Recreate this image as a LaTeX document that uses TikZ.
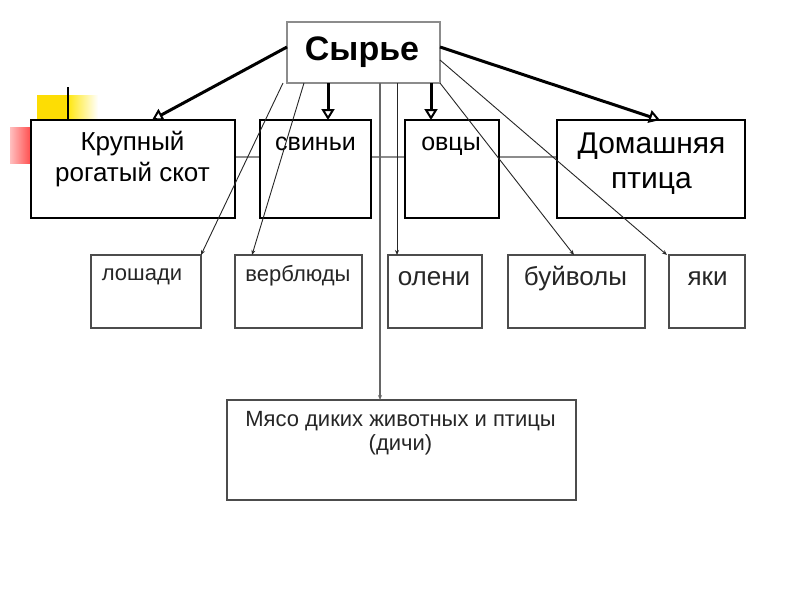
\documentclass[tikz,border=0pt]{standalone}
\usepackage{fontspec}
\setmainfont{Liberation Sans}
\usetikzlibrary{arrows.meta,calc,backgrounds}
\begin{document}
\begin{tikzpicture}[x=1pt,y=-1pt,
  tbox/.style={draw=black, line width=2.5pt, fill=white, inner sep=0pt, outer sep=0pt},
  lbox/.style={draw=black!70, line width=1.2pt, fill=white, inner sep=0pt, outer sep=0pt},
  sbox/.style={draw=black!45, line width=1.2pt, fill=white, inner sep=0pt, outer sep=0pt},
  txt/.style={inner sep=0pt, outer sep=0pt, text=black},
  ltxt/.style={inner sep=0pt, outer sep=0pt, text=black!85},
  bigarrow/.style={line width=3pt, -{Triangle[open,length=11pt,width=13pt,line width=2pt]}},
  thinarrow/.style={line width=0.9pt, draw=black!85, -{Stealth[length=5pt,width=4pt]}},
  grayarrow/.style={line width=1.6pt, draw=black!60, -{Stealth[length=5pt,width=4pt]}},
  linkline/.style={line width=2.5pt, draw=black!45}
]
\useasboundingbox (0,0) rectangle (800,600);
\begin{scope}[on background layer]
  \fill[white] (0,0) rectangle (800,600);
\end{scope}

% decorations
\fill[yellow!80!orange] (37,95) rectangle (66,120);
\shade[left color=yellow!80!orange, right color=white] (66,95) rectangle (98,120);
\shade[left color=red!25, right color=red!70] (10,127) rectangle (31,163);
\draw[line width=1.6pt] (68,87) -- (68,120);

% nodes
\node[sbox, minimum width=153pt, minimum height=61pt] (src) at (363.5,52.5) {};
\node[tbox, minimum width=204pt, minimum height=98pt] (krs) at (133,169) {};
\node[tbox, minimum width=111pt, minimum height=98pt] (svi) at (315.5,169) {};
\node[tbox, minimum width=94pt, minimum height=98pt] (ovc) at (452,169) {};
\node[tbox, minimum width=188pt, minimum height=98pt] (dom) at (651,169) {};
\node[lbox, minimum width=110pt, minimum height=73pt] (los) at (146,291.5) {};
\node[lbox, minimum width=127pt, minimum height=73pt] (ver) at (298.5,291.5) {};
\node[lbox, minimum width=94pt, minimum height=73pt] (ole) at (435,291.5) {};
\node[lbox, minimum width=137pt, minimum height=73pt] (buy) at (576.5,291.5) {};
\node[lbox, minimum width=76pt, minimum height=73pt] (yak) at (707,291.5) {};
\node[lbox, minimum width=349pt, minimum height=100pt] (dich) at (401.5,450) {};

% gray link line behind the top boxes
\begin{scope}[on background layer]
  \draw[linkline] ($(krs.north east)+(0,37)$) -- ($(dom.north west)+(0,37)$);
\end{scope}

% texts
\node[txt, anchor=base, font=\fontsize{34}{40}\selectfont\bfseries] (srct) at (362,60) {Сырье};
\node[txt, anchor=north, align=center, font=\fontsize{26}{31}\selectfont] (krst) at (132.5,131) {Крупный\\рогатый скот};
\node[txt, anchor=base, font=\fontsize{25}{30}\selectfont] (svit) at (315.5,150) {свиньи};
\node[txt, anchor=base, font=\fontsize{25}{30}\selectfont] (ovct) at (451,150) {овцы};
\node[txt, anchor=north, align=center, font=\fontsize{30}{35}\selectfont] (domt) at (651.5,133) {Домашняя\\птица};
\node[ltxt, anchor=base, font=\fontsize{22}{26}\selectfont] (lost) at (142,280) {лошади};
\node[ltxt, anchor=base, font=\fontsize{22}{26}\selectfont] (vert) at (298,281) {верблюды};
\node[ltxt, anchor=base, font=\fontsize{26}{30}\selectfont] (olet) at (434,285) {олени};
\node[ltxt, anchor=base, font=\fontsize{26}{30}\selectfont] (buyt) at (575.5,285) {буйволы};
\node[ltxt, anchor=base, font=\fontsize{26}{30}\selectfont] (yakt) at (707.5,285) {яки};
\node[ltxt, anchor=north, align=center, font=\fontsize{22}{24}\selectfont] (dicht) at (400.5,411) {Мясо диких животных и птицы\\(дичи)};

% thick arrows
\draw[bigarrow] ($(src.north west)+(0,25)$) -- ($(krs.north west)+(121,0)$);
\draw[bigarrow] ($(src.north east)+(0,25)$) -- ($(dom.north west)+(103,0)$);
\draw[bigarrow] ($(src.south west)+(41,0)$) -- ($(svi.north west)+(68,0)$);
\draw[bigarrow] ($(src.south west)+(144,0)$) -- ($(ovc.north west)+(26,0)$);

% thin arrows
\draw[thinarrow] ($(src.south west)+(-4,0)$) -- (los.north east);
\draw[thinarrow] ($(src.south west)+(17,0)$) -- ($(ver.north west)+(17,0)$);
\draw[grayarrow] ($(src.south west)+(93,0)$) -- ($(dich.north west)+(153,0)$);
\draw[thinarrow] ($(src.south west)+(110,0)$) -- ($(ole.north west)+(9,0)$);
\draw[thinarrow] (src.south east) -- ($(buy.north west)+(66,0)$);
\draw[thinarrow] ($(src.north east)+(0,38)$) -- ($(yak.north west)+(-2,0)$);
\end{tikzpicture}
\end{document}
